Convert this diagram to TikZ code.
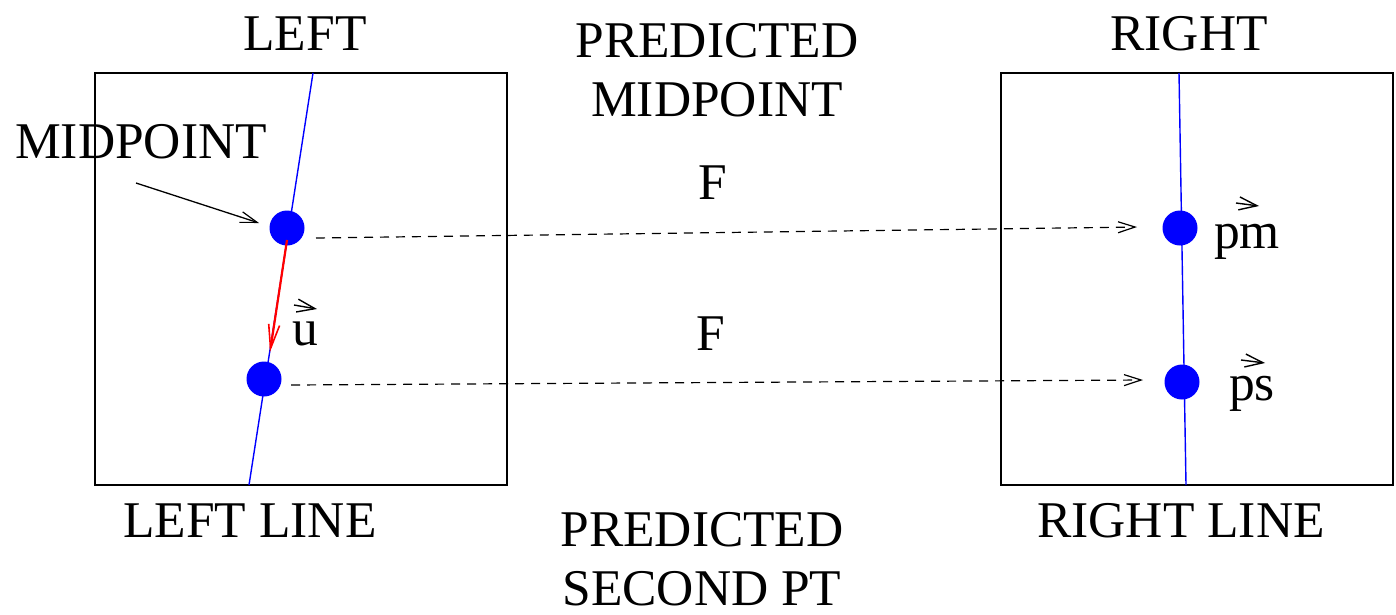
\documentclass[tikz,border=0pt]{standalone}
\usepackage{fontspec}
\setmainfont{Liberation Serif}
\usetikzlibrary{arrows.meta}
\tikzset{
  lbl/.style={font=\fontsize{51.5}{59}\selectfont, inner sep=0pt, align=center},
  frame/.style={draw=black, line width=2pt},
  bline/.style={draw=blue, line width=1.4pt},
  dot/.style={circle, fill=blue, draw=none, minimum size=35pt, inner sep=0pt},
  barb/.style={-{Straight Barb[length=17pt,width=11pt,line width=1.2pt]}},
  dasharrow/.style={barb, dashed, dash pattern=on 9pt off 7pt, line width=1.2pt},
  vecmark/.style={-{Straight Barb[length=18pt,width=13pt,line width=1.4pt]}, line width=1.4pt},
}
\begin{document}
\begin{tikzpicture}[x=1pt,y=-1pt]
\useasboundingbox (0,0) rectangle (1396,614);
% boxes
\node[frame, minimum width=412pt, minimum height=412pt, inner sep=0pt] (lbox) at (301,279) {};
\node[frame, minimum width=392pt, minimum height=412pt, inner sep=0pt] (rbox) at (1197,279) {};
% blue lines
\coordinate (lt) at (313,73);
\coordinate (lb) at (249,485);
\coordinate (rt) at (1179,73);
\coordinate (rb) at (1186,485);
\draw[bline] (lt) -- (lb);
\draw[bline] (rt) -- (rb);
% dots
\node[dot] (m1) at (287,228) {};
\node[dot] (s1) at (264,379) {};
\node[dot] (m2) at (1180,228) {};
\node[dot] (s2) at (1182,382) {};
% red vector
\coordinate (ustart) at (287,240);
\coordinate (uend) at (270,352);
\draw[red, line width=2.2pt, -{Straight Barb[length=24pt,width=11pt,line width=1.6pt]}] (ustart) -- (uend);
% dashed arrows
\coordinate (d1s) at (316,238);
\coordinate (d1e) at (1137,227);
\coordinate (d2s) at (291,385);
\coordinate (d2e) at (1143,380);
\draw[dasharrow] (d1s) -- (d1e);
\draw[dasharrow] (d2s) -- (d2e);
% texts
\node[lbl] (tleft) at (305,34) {LEFT};
\node[lbl] (tright) at (1189,34) {RIGHT};
\node[lbl] (tpm) at (717,70) {PREDICTED\\MIDPOINT};
\node[lbl] (tmid) at (141,142) {MIDPOINT};
\node[lbl] (f1) at (713,183) {F};
\node[lbl] (f2) at (711,334) {F};
\node[lbl] (tll) at (250,521) {LEFT LINE};
\node[lbl] (trl) at (1181,521) {RIGHT LINE};
\node[lbl] (tps) at (702,559) {PREDICTED\\SECOND PT};
% vector labels
\node[lbl, anchor=base] (lu) at (305,345) {u};
\node[lbl, anchor=base] (lpm) at (1247,248) {pm};
\node[lbl, anchor=base] (lpsv) at (1252,400) {ps};
% vector marks
\coordinate (uv1) at (294,305);
\coordinate (uv2) at (317,309);
\draw[vecmark] (uv1) -- (uv2);
\coordinate (pv1) at (1236,203);
\coordinate (pv2) at (1259,206);
\draw[vecmark] (pv1) -- (pv2);
\coordinate (sv1) at (1241,360);
\coordinate (sv2) at (1265,363);
\draw[vecmark] (sv1) -- (sv2);
% midpoint arrow
\coordinate (ma1) at (136,183);
\coordinate (ma2) at (259,223);
\draw[barb, line width=1.3pt] (ma1) -- (ma2);
\end{tikzpicture}
\end{document}
